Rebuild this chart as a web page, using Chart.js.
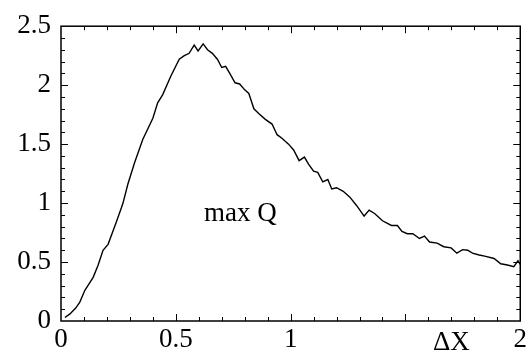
<!DOCTYPE html>
<html lang="en">
<head>
<meta charset="UTF-8">
<title>max Q</title>
<script src="https://cdn.jsdelivr.net/npm/chart.js"></script>
<style>
  html, body { margin: 0; padding: 0; background: #fff; }
  #wrap { width: 530px; height: 356px; }
</style>
</head>
<body>
<div id="wrap"><canvas id="chart"></canvas></div>
<script>
// values
const dxValues = [
  0.017, 0.039, 0.064, 0.082, 0.104, 0.14, 0.161, 0.183, 0.205, 0.241,
  0.263, 0.27, 0.291, 0.32, 0.356, 0.40, 0.421, 0.443, 0.479, 0.515,
  0.537, 0.558, 0.58, 0.597, 0.619, 0.638, 0.659, 0.681, 0.70, 0.717,
  0.735, 0.758, 0.778, 0.80, 0.818, 0.84, 0.861, 0.89, 0.919, 0.941,
  0.962, 0.991, 1.013, 1.037, 1.06, 1.078, 1.10, 1.118, 1.14, 1.162,
  1.179, 1.20, 1.229, 1.258, 1.287, 1.32, 1.342, 1.367, 1.40, 1.439,
  1.465, 1.485, 1.508, 1.532, 1.561, 1.583, 1.605, 1.638, 1.667, 1.699,
  1.724, 1.749, 1.771, 1.792, 1.821, 1.845, 1.886, 1.915, 1.944, 1.972,
  1.99, 2.0
];
const qValues = [
  0.03, 0.06, 0.11, 0.16, 0.26, 0.37, 0.47, 0.60, 0.65, 0.84,
  0.96, 1.00, 1.16, 1.34, 1.54, 1.72, 1.85, 1.92, 2.08, 2.22,
  2.25, 2.27, 2.34, 2.29, 2.35, 2.30, 2.27, 2.22, 2.15, 2.16,
  2.10, 2.02, 2.01, 1.96, 1.93, 1.80, 1.76, 1.71, 1.67, 1.58,
  1.55, 1.50, 1.45, 1.36, 1.39, 1.33, 1.27, 1.26, 1.18, 1.20,
  1.12, 1.13, 1.10, 1.05, 0.98, 0.89, 0.94, 0.91, 0.85, 0.81,
  0.81, 0.76, 0.74, 0.74, 0.70, 0.72, 0.67, 0.66, 0.63, 0.62,
  0.575, 0.605, 0.60, 0.575, 0.56, 0.55, 0.53, 0.485, 0.475, 0.46,
  0.51, 0.48
];
const xTickLabels = [0, 0.5, 1, 2];
const yTickLabels = [0, 0.5, 1, 1.5, 2, 2.5];

const FONT = 'Liberation Serif, "Times New Roman", serif';

// frame with inward ticks on all four sides, plus the two text labels
const framePlugin = {
  id: 'frame',
  afterDraw(chart) {
    const ctx = chart.ctx;
    const a = chart.chartArea;
    const xs = chart.scales.x, ys = chart.scales.y;
    ctx.save();
    ctx.strokeStyle = '#000';
    ctx.lineWidth = 1.5;
    ctx.strokeRect(a.left, a.top, a.right - a.left, a.bottom - a.top);
    ctx.lineWidth = 1;
    ctx.beginPath();
    for (let i = 1; i < 20; i++) {
      const px = Math.round(xs.getPixelForValue(i / 10)) + 0.5;
      const len = i % 5 === 0 ? 7 : 4;
      ctx.moveTo(px, a.bottom); ctx.lineTo(px, a.bottom - len);
      ctx.moveTo(px, a.top); ctx.lineTo(px, a.top + len);
    }
    for (let i = 1; i < 25; i++) {
      const py = Math.round(ys.getPixelForValue(i / 10)) + 0.5;
      const len = i % 5 === 0 ? 7 : 4;
      ctx.moveTo(a.left, py); ctx.lineTo(a.left + len, py);
      ctx.moveTo(a.right, py); ctx.lineTo(a.right - len, py);
    }
    ctx.stroke();

    ctx.fillStyle = '#000';
    ctx.font = '27px ' + FONT;
    ctx.textAlign = 'left';
    ctx.textBaseline = 'alphabetic';
    ctx.fillText('max Q', xs.getPixelForValue(0.623), ys.getPixelForValue(0.85));
    ctx.textAlign = 'center';
    ctx.fillText('\u0394X', xs.getPixelForValue(1.70), a.bottom + 29);
    ctx.restore();
  }
};

new Chart(document.getElementById('chart'), {
  type: 'line',
  data: {
    datasets: [{
      data: dxValues.map((x, i) => ({ x: x, y: qValues[i] })),
      borderColor: '#000',
      borderWidth: 1.4,
      pointRadius: 0,
      tension: 0,
      fill: false
    }]
  },
  options: {
    responsive: true,
    maintainAspectRatio: false,
    animation: false,
    layout: { padding: { top: 24, right: 7, left: 0, bottom: 0 } },
    plugins: { legend: { display: false }, tooltip: { enabled: false } },
    scales: {
      x: {
        type: 'linear',
        min: 0, max: 2,
        grid: { display: false, drawTicks: false },
        border: { display: false },
        ticks: {
          stepSize: 0.5,
          autoSkip: false,
          maxRotation: 0,
          padding: 3,
          color: '#000',
          font: { family: FONT, size: 27 },
          callback: v => xTickLabels.includes(v) ? String(v) : ''
        },
        afterFit: s => { s.height = 35; }
      },
      y: {
        type: 'linear',
        min: 0, max: 2.5,
        grid: { display: false, drawTicks: false },
        border: { display: false },
        ticks: {
          stepSize: 0.5,
          padding: 10,
          color: '#000',
          font: { family: FONT, size: 27 },
          callback: v => yTickLabels.includes(v) ? String(v) : ''
        },
        afterFit: s => { s.width = 61; }
      }
    }
  },
  plugins: [framePlugin]
});
</script>
</body>
</html>
